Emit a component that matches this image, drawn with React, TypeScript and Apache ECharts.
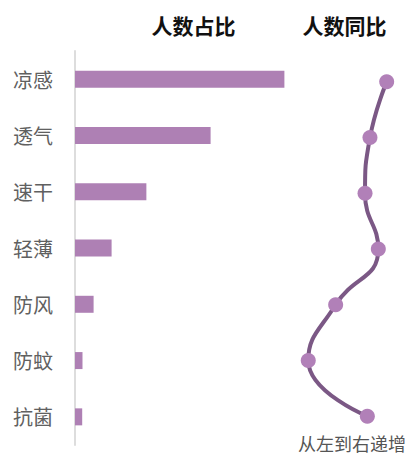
import React, { useEffect, useRef } from "react";
import * as echarts from "echarts";

const categories = ["凉感", "透气", "速干", "轻薄", "防风", "防蚊", "抗菌"];
const shareValues = [34.9, 22.6, 11.9, 6.1, 3.1, 1.25, 1.2];
const yoyValues = [87.9, 72.7, 68.2, 80.3, 41.5, 16.6, 70.3];
const titles = ["人数占比", "人数同比"];
const axisNote = "从左到右递增";

export default function App() {
  const ref = useRef<HTMLDivElement>(null);
  useEffect(() => {
    if (!ref.current) return;
    const chart = echarts.init(ref.current, null, { renderer: "svg" });
    const font = '"Noto Sans CJK SC", "Noto Sans", sans-serif';
    chart.setOption({
      animation: false,
      backgroundColor: "#ffffff",
      textStyle: { fontFamily: font },
      graphic: [
        {
          type: "text",
          x: 193.5,
          y: 25,
          style: {
            text: titles[0],
            fontSize: 21,
            fontWeight: "bold",
            fontFamily: font,
            fill: "#111",
            textAlign: "center",
            textVerticalAlign: "middle",
          },
        },
        {
          type: "text",
          x: 344.5,
          y: 25,
          style: {
            text: titles[1],
            fontSize: 21,
            fontWeight: "bold",
            fontFamily: font,
            fill: "#111",
            textAlign: "center",
            textVerticalAlign: "middle",
          },
        },
        {
          type: "text",
          x: 352,
          y: 443,
          style: {
            text: axisNote,
            fontSize: 18,
            fontFamily: font,
            fill: "#555",
            textAlign: "center",
            textVerticalAlign: "middle",
          },
        },
      ],
      grid: [
        { left: 75, top: 51, width: 240, height: 394 },
        { left: 290, top: 54, width: 110, height: 390 },
      ],
      xAxis: [
        { gridIndex: 0, type: "value", min: 0, max: 40, show: false },
        { gridIndex: 1, type: "value", min: 0, max: 100, show: false },
      ],
      yAxis: [
        {
          gridIndex: 0,
          type: "category",
          data: categories,
          inverse: true,
          axisLine: { show: true, lineStyle: { color: "#dddddd", width: 2 } },
          axisTick: { show: false },
          axisLabel: { fontSize: 20, color: "#606060", margin: 22, fontFamily: font },
        },
        {
          gridIndex: 1,
          type: "category",
          data: categories,
          inverse: true,
          show: false,
        },
      ],
      series: [
        {
          type: "bar",
          xAxisIndex: 0,
          yAxisIndex: 0,
          data: shareValues,
          barWidth: 17,
          itemStyle: { color: "#ae80b4" },
        },
        {
          type: "line",
          xAxisIndex: 1,
          yAxisIndex: 1,
          data: yoyValues,
          smooth: true,
          symbol: "circle",
          symbolSize: 15,
          lineStyle: { color: "#7b5885", width: 4 },
          itemStyle: { color: "#b180b8" },
        },
      ],
    });
    return () => chart.dispose();
  }, []);
  return (
    <div
      ref={ref}
      style={{ position: "fixed", left: 0, top: 0, width: 410, height: 463 }}
    />
  );
}
